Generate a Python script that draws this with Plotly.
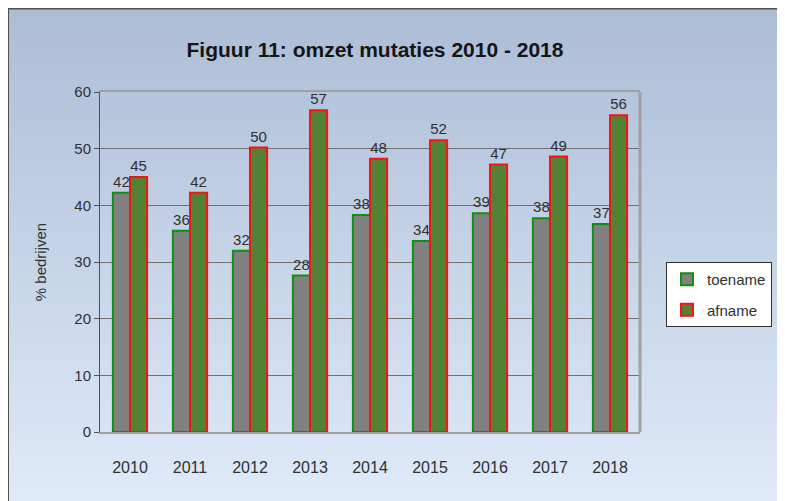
"""Figuur 11: omzet mutaties 2010 - 2018 (grouped bars, Excel-style)."""

import base64
import struct
import zlib

import plotly.graph_objects as go

years = ["2010", "2011", "2012", "2013", "2014", "2015", "2016", "2017", "2018"]
toename = [42.2, 35.5, 32.0, 27.6, 38.3, 33.7, 38.6, 37.7, 36.7]
afname = [45.0, 42.2, 50.2, 56.8, 48.2, 51.5, 47.2, 48.6, 55.9]

W, H = 785, 501
# the page body adds an 8px margin, so figure px = page px - 8
L, R, T, B = 92, 153, 84, 77
FONT = "Liberation Sans, Arial, sans-serif"


def gradient_png(top, bottom, rows=128):
    """Tiny 1 x rows PNG with a vertical colour gradient, as a data URI."""
    raw = b""
    for i in range(rows):
        f = i / (rows - 1)
        px = bytes(round(a + (b - a) * f) for a, b in zip(top, bottom))
        raw += b"\x00" + px

    def chunk(tag, data):
        c = struct.pack(">I", len(data)) + tag + data
        return c + struct.pack(">I", zlib.crc32(tag + data) & 0xFFFFFFFF)

    png = b"\x89PNG\r\n\x1a\n"
    png += chunk(b"IHDR", struct.pack(">IIBBBBB", 1, rows, 8, 2, 0, 0, 0))
    png += chunk(b"IDAT", zlib.compress(raw))
    png += chunk(b"IEND", b"")
    return "data:image/png;base64," + base64.b64encode(png).decode()


def px_x(px):
    return (px - L) / (W - L - R)


def px_y(py):
    return (H - B - py) / (H - T - B)


fig = go.Figure()
fig.add_trace(
    go.Bar(
        x=years, y=toename, name="toename", legendgroup="a",
        marker=dict(color="#808080", line=dict(color="#109010", width=2)),
        text=[f"{v:.0f}" for v in toename], textposition="outside",
    )
)
fig.add_trace(
    go.Bar(
        x=years, y=afname, name="afname", legendgroup="b",
        marker=dict(color="#538135", line=dict(color="#FF1010", width=2)),
        text=[f"{v:.0f}" for v in afname], textposition="outside",
    )
)
fig.update_traces(
    textfont=dict(size=15, color="#303030", family=FONT),
    cliponaxis=False, constraintext="none",
)

# chart frame with the blue gradient
fig.add_layout_image(
    source=gradient_png((172, 189, 214), (224, 235, 250)),
    xref="paper", yref="paper", x=px_x(-1), y=px_y(0),
    sizex=px_x(W) - px_x(-1), sizey=px_y(0) - px_y(H),
    sizing="stretch", layer="below", xanchor="left", yanchor="top",
)
fig.add_shape(
    type="rect", xref="paper", yref="paper", layer="below",
    x0=px_x(0), x1=px_x(W + 5), y0=px_y(H + 5), y1=px_y(0.5),
    line=dict(color="#505050", width=2), fillcolor="rgba(0,0,0,0)",
)
# grey shadow on the right side of the plot area
fig.add_shape(
    type="line", xref="paper", yref="paper", x0=1, x1=1, y0=0, y1=1,
    line=dict(color="#A0A0A0", width=3),
)

fig.update_layout(
    width=W, height=H,
    margin=dict(l=L, r=R, t=T, b=B),
    paper_bgcolor="white", plot_bgcolor="#D9D9D9",
    font=dict(family=FONT, color="#303030", size=15),
    barmode="group", bargap=0.43, bargroupgap=0.0,
    title=dict(
        text="<b>Figuur 11: omzet mutaties 2010 - 2018</b>",
        x=367 / W, xanchor="center", y=1 - 42 / H, yanchor="middle",
        font=dict(size=21, color="#151515"),
    ),
    legend=dict(
        x=px_x(658), y=px_y(254), xanchor="left", yanchor="top",
        bgcolor="white", bordercolor="#303030", borderwidth=1,
        font=dict(size=15, color="#303030"),
        traceorder="grouped", tracegroupgap=8, itemwidth=30,
    ),
    showlegend=True,
)
fig.update_xaxes(
    showline=True, linecolor="#A0A0A0", linewidth=2, mirror=True,
    ticks="", ticklabelstandoff=20, tickfont=dict(size=16),
    showgrid=False,
)
fig.update_yaxes(
    range=[0, 60], dtick=10, tickfont=dict(size=15),
    showline=True, linecolor="#505050", linewidth=1,
    ticks="outside", ticklen=5, tickcolor="#505050",
    showgrid=True, gridcolor="#707070", gridwidth=1, zeroline=False,
    title=dict(text="% bedrijven", standoff=24, font=dict(size=15)),
)

fig.write_html("out.html")
